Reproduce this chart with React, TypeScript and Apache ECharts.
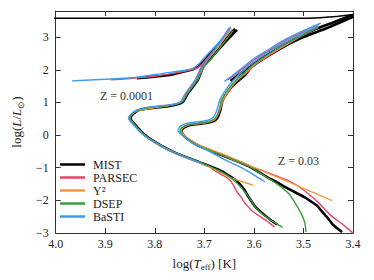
import React, { useEffect, useRef } from "react";
import * as echarts from "echarts";

const FONT = "Liberation Serif";

const MODELS = ["MIST", "PARSEC", "Y²", "DSEP", "BaSTI"];
const COLORS: Record<string, string> = {
  MIST: "#000000",
  PARSEC: "#e6456b",
  "Y²": "#f5993c",
  DSEP: "#3a9c3a",
  BaSTI: "#3c9cf3",
};
const WIDTHS: Record<string, number> = { MIST: 2.6, PARSEC: 1.4, "Y²": 1.4, DSEP: 1.4, BaSTI: 1.4 };

const X_TICKS = [3.4, 3.5, 3.6, 3.7, 3.8, 3.9, 4.0];
const Y_TICKS = [-3, -2, -1, 0, 1, 2, 3];

// ---- Z = 0.0001 : main isochrones (MS -> turn-off -> subgiant -> RGB) [logTeff, logL]
const MIST_LOWZ = [
  [3.553, -2.74], [3.566, -2.6], [3.578, -2.46], [3.597, -2.2], [3.611, -1.89], [3.621, -1.64],
  [3.637, -1.38], [3.655, -1.2], [3.67, -1.07], [3.703, -0.87], [3.756, -0.56], [3.789, -0.31],
  [3.82, 0.0], [3.842, 0.36], [3.849, 0.51], [3.846, 0.61], [3.838, 0.72], [3.826, 0.79],
  [3.8, 0.84], [3.77, 0.89], [3.752, 0.95], [3.743, 1.02], [3.733, 1.28], [3.713, 1.69],
  [3.702, 2.1], [3.69, 2.3], [3.662, 2.78], [3.634, 3.22],
];
const PARSEC_LOWZ = [
  [3.558, -2.82], [3.575, -2.62], [3.591, -2.46], [3.605, -2.3], [3.617, -2.1], [3.626, -1.9],
  [3.634, -1.74], [3.645, -1.45], [3.655, -1.3], [3.675, -1.13], [3.69, -0.97], [3.705, -0.88],
  [3.756, -0.56], [3.79, -0.3], [3.822, 0.0], [3.845, 0.36], [3.853, 0.52], [3.848, 0.63],
  [3.836, 0.74], [3.8, 0.85], [3.765, 0.93], [3.748, 1.02], [3.738, 1.28], [3.718, 1.7],
  [3.702, 2.2], [3.676, 2.65], [3.648, 3.27],
];
const Y2_LOWZ = [
  [3.601, -1.54], [3.625, -1.42], [3.644, -1.33], [3.665, -1.15], [3.703, -0.88], [3.757, -0.57],
  [3.79, -0.32], [3.823, 0.02], [3.845, 0.38], [3.851, 0.52], [3.847, 0.62], [3.838, 0.73],
  [3.8, 0.84], [3.766, 0.92], [3.746, 1.02], [3.735, 1.28], [3.714, 1.7], [3.698, 2.2],
  [3.672, 2.7], [3.645, 3.25],
];
const DSEP_LOWZ = [
  [3.542, -2.83], [3.56, -2.66], [3.578, -2.48], [3.595, -2.25], [3.606, -2.0], [3.615, -1.8],
  [3.625, -1.62], [3.637, -1.43], [3.655, -1.22], [3.672, -1.08], [3.703, -0.87], [3.756, -0.56],
  [3.789, -0.31], [3.821, 0.0], [3.843, 0.36], [3.85, 0.51], [3.847, 0.62], [3.838, 0.73],
  [3.816, 0.83], [3.763, 0.93], [3.744, 1.02], [3.734, 1.28], [3.714, 1.69], [3.7, 2.1],
  [3.688, 2.3], [3.662, 2.8], [3.642, 3.2],
];
const BASTI_LOWZ = [
  [3.703, -0.88], [3.757, -0.56], [3.79, -0.31], [3.823, 0.0], [3.846, 0.36], [3.853, 0.52],
  [3.849, 0.62], [3.84, 0.74], [3.818, 0.84], [3.765, 0.94], [3.747, 1.03], [3.737, 1.28],
  [3.717, 1.7], [3.703, 2.1], [3.692, 2.35], [3.67, 2.8], [3.65, 3.28],
];

// ---- Z = 0.0001 : horizontal branch + AGB
const MIST_LOWZ_HB = [
  [3.836, 1.74], [3.8, 1.79], [3.77, 1.84], [3.745, 1.93], [3.722, 2.02], [3.708, 2.15],
  [3.69, 2.45], [3.665, 2.85], [3.638, 3.25],
];
const PARSEC_LOWZ_HB = [
  [3.889, 1.69], [3.85, 1.73], [3.8, 1.8], [3.765, 1.88], [3.735, 1.97], [3.715, 2.05],
  [3.7, 2.25], [3.675, 2.7], [3.652, 3.1],
];
const BASTI_LOWZ_HB = [
  [3.967, 1.66], [3.9, 1.71], [3.836, 1.77], [3.783, 1.89], [3.745, 1.97], [3.725, 2.03],
  [3.713, 2.15], [3.695, 2.45], [3.67, 2.85], [3.647, 3.31],
];

// ---- Z = 0.03 : main isochrones
const MIST_HIGHZ = [
  [3.422, -2.97], [3.44, -2.75], [3.452, -2.52], [3.462, -2.35], [3.472, -2.17], [3.485, -2.03],
  [3.498, -1.9], [3.53, -1.65], [3.553, -1.45], [3.575, -1.27], [3.607, -0.98], [3.637, -0.78],
  [3.657, -0.66], [3.71, -0.34], [3.728, -0.18], [3.74, -0.04], [3.746, 0.1], [3.743, 0.21],
  [3.73, 0.3], [3.712, 0.34], [3.697, 0.37], [3.682, 0.42], [3.674, 0.52], [3.668, 0.75],
  [3.663, 1.07], [3.65, 1.38], [3.637, 1.59], [3.617, 1.85], [3.604, 2.1], [3.551, 2.61],
  [3.505, 2.97], [3.452, 3.28], [3.399, 3.63],
];
const PARSEC_HIGHZ = [
  [3.399, -3.02], [3.419, -2.76], [3.445, -2.46], [3.471, -2.05], [3.491, -1.79], [3.511, -1.56],
  [3.53, -1.4], [3.56, -1.22], [3.59, -1.05], [3.62, -0.9], [3.657, -0.67], [3.71, -0.32],
  [3.741, -0.02], [3.748, 0.1], [3.745, 0.22], [3.733, 0.31], [3.712, 0.35], [3.697, 0.38],
  [3.683, 0.44], [3.675, 0.55], [3.668, 0.78], [3.662, 1.07], [3.648, 1.4], [3.637, 1.62],
  [3.614, 1.92], [3.598, 2.15], [3.55, 2.62], [3.51, 2.98], [3.47, 3.3],
];
const Y2_HIGHZ = [
  [3.442, -2.01], [3.5, -1.63], [3.56, -1.24], [3.62, -0.86], [3.66, -0.6], [3.71, -0.31],
  [3.739, -0.03], [3.746, 0.1], [3.744, 0.22], [3.731, 0.31], [3.712, 0.35], [3.697, 0.38],
  [3.683, 0.44], [3.675, 0.55], [3.669, 0.78], [3.663, 1.07], [3.65, 1.4], [3.638, 1.62],
  [3.616, 1.92], [3.6, 2.15], [3.555, 2.6], [3.515, 2.95], [3.478, 3.36],
];
const DSEP_HIGHZ = [
  [3.495, -2.97], [3.496, -2.8], [3.499, -2.6], [3.505, -2.4], [3.512, -2.2], [3.52, -2.0],
  [3.528, -1.82], [3.54, -1.65], [3.555, -1.48], [3.575, -1.28], [3.607, -0.98], [3.637, -0.78],
  [3.658, -0.65], [3.712, -0.32], [3.742, -0.03], [3.749, 0.11], [3.746, 0.22], [3.733, 0.32],
  [3.714, 0.35], [3.699, 0.38], [3.684, 0.45], [3.676, 0.56], [3.67, 0.78], [3.665, 1.07],
  [3.652, 1.4], [3.64, 1.62], [3.618, 1.92], [3.602, 2.15], [3.556, 2.62], [3.512, 2.98],
  [3.472, 3.3],
];
const BASTI_HIGHZ = [
  [3.578, -1.43], [3.6, -1.22], [3.625, -1.0], [3.657, -0.77], [3.69, -0.5], [3.723, -0.26],
  [3.745, 0.0], [3.753, 0.15], [3.749, 0.26], [3.737, 0.35], [3.716, 0.4], [3.7, 0.43],
  [3.687, 0.49], [3.679, 0.6], [3.673, 0.85], [3.668, 1.1], [3.655, 1.42], [3.645, 1.62],
  [3.625, 1.92], [3.608, 2.15], [3.562, 2.62], [3.52, 2.97], [3.47, 3.35],
];

// ---- Z = 0.03 : clump + AGB (+ MIST post-AGB)
const MIST_HIGHZ_AGB = [
  [3.647, 1.66], [3.632, 1.83], [3.615, 2.02], [3.59, 2.3], [3.555, 2.62], [3.52, 2.92],
  [3.48, 3.22], [3.44, 3.45], [3.4, 3.68],
];
const MIST_POST_AGB = [
  [3.4, 3.69], [3.43, 3.64], [3.46, 3.6], [3.49, 3.58], [3.6, 3.575], [4.1, 3.575],
];
const PARSEC_HIGHZ_AGB = [
  [3.654, 1.68], [3.64, 1.82], [3.625, 2.0], [3.6, 2.3], [3.565, 2.63], [3.535, 2.9],
  [3.495, 3.2], [3.468, 3.4],
];
const BASTI_HIGHZ_AGB = [
  [3.66, 1.64], [3.645, 1.8], [3.63, 1.98], [3.604, 2.3], [3.57, 2.62], [3.538, 2.92],
  [3.5, 3.2], [3.465, 3.43],
];

const SEGMENTS: [string, number[][], number?][] = [
  ["MIST", MIST_LOWZ], ["MIST", MIST_LOWZ_HB], ["MIST", MIST_HIGHZ], ["MIST", MIST_HIGHZ_AGB], ["MIST", MIST_POST_AGB, 1.5],
  ["PARSEC", PARSEC_LOWZ], ["PARSEC", PARSEC_LOWZ_HB], ["PARSEC", PARSEC_HIGHZ], ["PARSEC", PARSEC_HIGHZ_AGB],
  ["Y²", Y2_LOWZ], ["Y²", Y2_HIGHZ],
  ["DSEP", DSEP_LOWZ], ["DSEP", DSEP_HIGHZ],
  ["BaSTI", BASTI_LOWZ], ["BaSTI", BASTI_LOWZ_HB], ["BaSTI", BASTI_HIGHZ], ["BaSTI", BASTI_HIGHZ_AGB],
];

const AXIS_COLOR = "#333";
const TEXT_COLOR = "#222";

export default function App() {
  const ref = useRef<HTMLDivElement>(null);
  useEffect(() => {
    if (!ref.current) return;
    const chart = echarts.init(ref.current, undefined, { renderer: "svg" });
    const fmtY = (v: number) => (Number.isInteger(v) ? (v < 0 ? "\u2212" + Math.abs(v) : String(v)) : "");
    const baseX = {
      type: "value" as const,
      min: X_TICKS[0],
      max: X_TICKS[X_TICKS.length - 1],
      interval: 0.1,
      inverse: true,
      splitLine: { show: false },
      axisLine: { show: true, onZero: false, lineStyle: { color: AXIS_COLOR, width: 1 } },
      axisTick: { show: true, inside: true, length: 5, lineStyle: { color: AXIS_COLOR } },
    };
    const baseY = {
      type: "value" as const,
      min: Y_TICKS[0],
      max: 3.8,
      interval: 1,
      splitLine: { show: false },
      axisLine: { show: true, onZero: false, lineStyle: { color: AXIS_COLOR, width: 1 } },
      axisTick: { show: true, inside: true, length: 5, lineStyle: { color: AXIS_COLOR } },
    };
    const nameStyle = {
      fontFamily: FONT, fontSize: 13, color: TEXT_COLOR, lineHeight: 17,
      rich: {
        i: { fontFamily: FONT, fontSize: 13, fontStyle: "italic", color: TEXT_COLOR, lineHeight: 17 },
        s: { fontFamily: FONT, fontSize: 9, color: TEXT_COLOR, lineHeight: 9, verticalAlign: "bottom" },
      },
    };
    const series = SEGMENTS.map(([name, data, w]) => ({
      type: "line",
      name,
      data,
      symbol: "none",
      showSymbol: false,
      smooth: 0.2,
      clip: true,
      lineStyle: { color: COLORS[name], width: w ?? WIDTHS[name] },
      itemStyle: { color: COLORS[name] },
      emphasis: { disabled: true },
    }));
    chart.setOption({
      animation: false,
      grid: { left: 51, right: 21, top: 11, bottom: 47 },
      xAxis: [
        {
          ...baseX,
          position: "bottom",
          name: "log({i|T}{s|eff}) [K]",
          nameLocation: "middle",
          nameGap: 15,
          nameTextStyle: nameStyle,
          axisLabel: {
            show: true, margin: 5, fontFamily: FONT, fontSize: 12, color: TEXT_COLOR,
            formatter: (v: number) => v.toFixed(1),
          },
        },
        { ...baseX, position: "top", axisLabel: { show: false } },
      ],
      yAxis: [
        {
          ...baseY,
          position: "left",
          name: "log({i|L}/{i|L}{s|⊙})",
          nameLocation: "middle",
          nameRotate: 90,
          nameGap: 26,
          nameTextStyle: nameStyle,
          axisLabel: {
            show: true, margin: 7, fontFamily: FONT, fontSize: 12, color: TEXT_COLOR,
            formatter: fmtY, showMaxLabel: false,
          },
        },
        { ...baseY, position: "right", axisLabel: { show: false } },
      ],
      legend: {
        data: MODELS.map((m) => ({ name: m, icon: "rect", itemStyle: { color: COLORS[m] } })),
        orient: "vertical",
        left: 60,
        top: 158,
        padding: 0,
        itemWidth: 25,
        itemHeight: 2.5,
        itemGap: 0,
        textStyle: { fontFamily: FONT, fontSize: 12, color: TEXT_COLOR, lineHeight: 13, padding: [0, 0, 0, 3] },
        selectedMode: false,
      },
      graphic: [
        { type: "text", left: 100, top: 90, style: { text: "Z = 0.0001", fontFamily: FONT, fontSize: 12, fill: "#333" } },
        { type: "text", left: 278, top: 155, style: { text: "Z = 0.03", fontFamily: FONT, fontSize: 12, fill: "#333" } },
      ],
      series,
    });
    return () => chart.dispose();
  }, []);
  return <div ref={ref} style={{ width: 374, height: 280, position: "absolute", left: 0, top: 0 }} />;
}
